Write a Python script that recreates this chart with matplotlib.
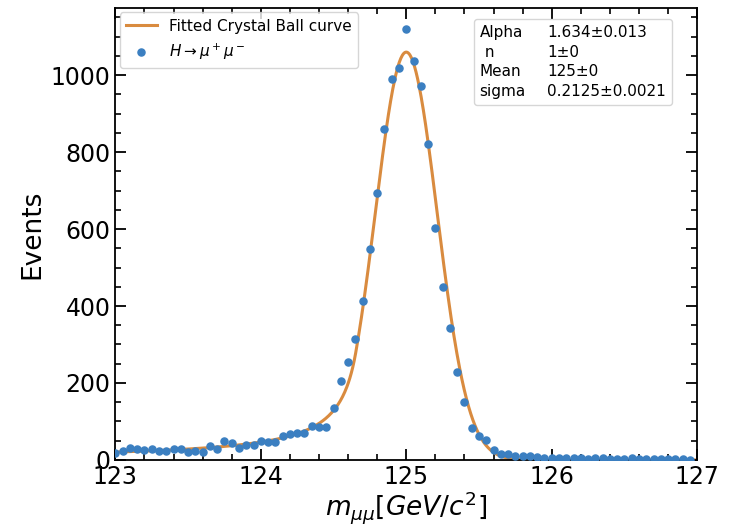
import numpy as np
import matplotlib
matplotlib.use('Agg')
import matplotlib.pyplot as plt
from matplotlib.lines import Line2D
from matplotlib.ticker import MultipleLocator

# binned dimuon mass (bin positions, 0.05 GeV apart)
mass_start = 123.0
mass_step = 0.05
events = [19, 22, 32, 29, 26, 29, 23, 23, 29, 29,
          20, 24, 20, 37, 29, 50, 43, 30, 40, 40,
          50, 47, 46, 61, 67, 69, 71, 88, 85, 85,
          134, 206, 254, 314, 414, 547, 695, 859, 991, 1020,
          1121, 1037, 971, 822, 602, 450, 342, 229, 151, 84,
          61, 51, 25, 15, 15, 11, 10, 9, 7, 6,
          5, 5, 4, 6, 4, 3, 4, 5, 3, 3,
          2, 4, 3, 2, 3, 2, 2, 3, 2, 1]
mass = mass_start + mass_step * np.arange(len(events))

# fit parameters as shown in the box
alpha, alpha_err = 1.634, 0.013
n_cb, n_err = 1, 0
mean, mean_err = 125, 0
sigma, sigma_err = 0.2125, 0.0021
amplitude = 1060

def crystal_ball(x, a, n, mu, s, norm):
    t = (x - mu) / s
    A = (n / a) ** n * np.exp(-a ** 2 / 2)
    B = n / a - a
    out = np.empty_like(x)
    core = t > -a
    out[core] = np.exp(-t[core] ** 2 / 2)
    out[~core] = A * (B - t[~core]) ** (-n)
    return norm * out

x_fit = np.linspace(123, 127, 800)
y_fit = crystal_ball(x_fit, alpha, n_cb, mean, sigma, amplitude)

fig = plt.figure(figsize=(7.3, 5.25), dpi=100)
ax = fig.add_axes([0.158, 0.124, 0.797, 0.861])

ax.plot(x_fit, y_fit, color='#d98b3f', lw=2.2, label='Fitted Crystal Ball curve')
ax.scatter(mass, events, s=26, color='#3b7fc1', zorder=3,
           label=r'$H \rightarrow \mu^+\mu^-$')

ax.set_xlim(123, 127)
ax.set_ylim(0, 1175)
ax.xaxis.set_major_locator(MultipleLocator(1))
ax.xaxis.set_minor_locator(MultipleLocator(0.2))
ax.yaxis.set_major_locator(MultipleLocator(200))
ax.yaxis.set_minor_locator(MultipleLocator(50))
ax.tick_params(which='both', direction='in', top=True, right=True, labelsize=17)
ax.tick_params(which='major', length=8, width=1.3)
ax.tick_params(which='minor', length=4, width=1.2)
for sp in ax.spines.values():
    sp.set_linewidth(1.3)

ax.set_xlabel(r'$m_{\mu\mu} [GeV/c^2]$', fontsize=19, labelpad=0)
ax.set_ylabel('Events', fontsize=19)

leg1 = ax.legend(loc='upper left', fontsize=11, borderaxespad=0.3)
ax.add_artist(leg1)

# parameter box as a handle-less two column legend
names = ['Alpha', ' n', 'Mean', 'sigma']
values = [f'{alpha}±{alpha_err}', f'{n_cb}±{n_err}',
          f'{mean}±{mean_err}', f'{sigma}±{sigma_err}']
blank = [Line2D([], [], alpha=0) for _ in range(8)]
ax.legend(blank, names + values, ncol=2, loc='upper right',
          bbox_to_anchor=(0.957, 0.975), borderaxespad=0, fontsize=11,
          handlelength=0, handletextpad=0, columnspacing=1.4, labelspacing=0.3)

plt.savefig('out.png', dpi=100)
